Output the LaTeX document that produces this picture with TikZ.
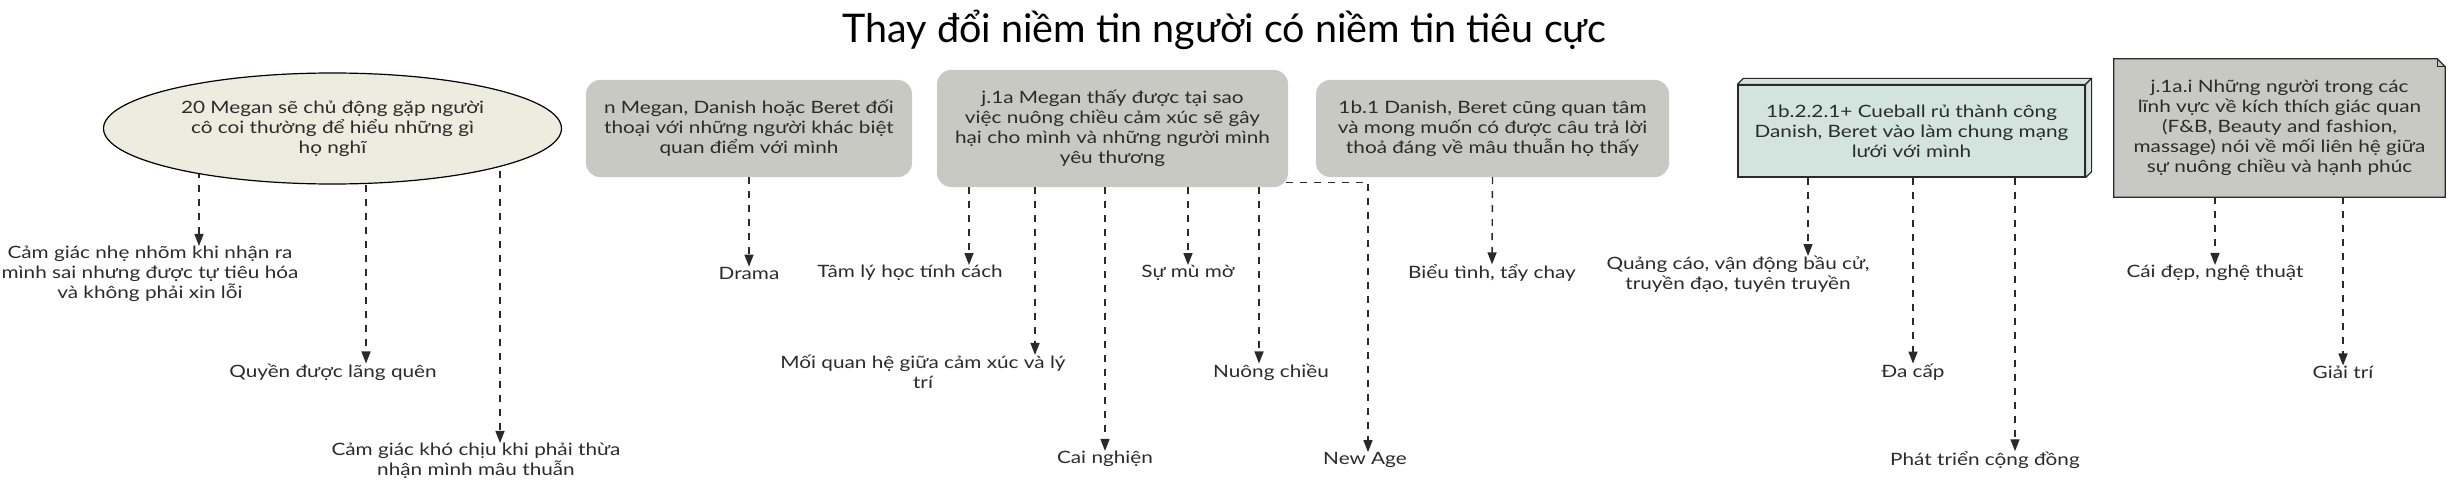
\documentclass[tikz,border=0pt]{standalone}
\usepackage{fontspec}
\setmainfont{Lato}[FakeStretch=1.22]
\newfontfamily\titlefont{Lato}
\usetikzlibrary{arrows.meta,backgrounds,calc,shapes.geometric}
\definecolor{ellfill}{HTML}{EEEBDF}
\definecolor{boxgray}{HTML}{C8C9C3}
\definecolor{boxteal}{HTML}{D3E4DE}
\definecolor{ink}{HTML}{2B2B2B}
\definecolor{wire}{HTML}{2A2A2A}
\tikzset{
  txt/.style={font=\fontsize{17}{20}\selectfont, text=ink, align=center, inner sep=0pt},
  lbl/.style={txt},
  conn/.style={draw=wire, line width=1.4pt, dash pattern=on 7pt off 7pt,
    -{Triangle[length=12pt,width=9pt]}},
  graybox/.style={txt, fill=boxgray, rounded corners=14pt},
}
\begin{document}
\begin{tikzpicture}[x=1pt,y=-1pt]
\useasboundingbox (0,0) rectangle (2450,487);
% title
\node[font=\titlefont\fontsize{39.5}{44}\selectfont, text=black, inner sep=0pt, anchor=base] (title) at (1224.5,43) {Thay đổi niềm tin người có niềm tin tiêu cực};

% main nodes
\node[txt, ellipse, fill=ellfill, draw=black, line width=1.2pt, minimum width=458, minimum height=111] (e) at (332.5,128.5)
  {20 Megan sẽ chủ động gặp người\\cô coi thường để hiểu những gì\\họ nghĩ};
\node[graybox, minimum width=326, minimum height=97] (n) at (749,128.5)
  {n Megan, Danish hoặc Beret đối\\thoại với những người khác biệt\\quan điểm với mình};
\node[graybox, minimum width=351, minimum height=117] (j) at (1112.5,128.5)
  {j.1a Megan thấy được tại sao\\việc nuông chiều cảm xúc sẽ gây\\hại cho mình và những người mình\\yêu thương};
\node[graybox, minimum width=353, minimum height=97] (b) at (1492.5,128.5)
  {1b.1 Danish, Beret cũng quan tâm\\và mong muốn có được câu trả lời\\thoả đáng về mâu thuẫn họ thấy};
\node[txt, fill=boxteal, draw=wire, line width=1.2pt, minimum width=347, minimum height=92] (c) at (1911.5,131)
  {1b.2.2.1+ Cueball rủ thành công\\Danish, Beret vào làm chung mạng\\lưới với mình};
\filldraw[fill=boxteal, draw=wire, line width=1.2pt, line join=round]
  (c.north west) -- ++(6,-6) -- ($(c.north east)+(6,-6)$) -- (c.north east) -- cycle;
\filldraw[fill=boxteal, draw=wire, line width=1.2pt, line join=round]
  (c.north east) -- ++(6,-6) -- ($(c.south east)+(6,-6)$) -- (c.south east) -- cycle;
\node[txt, minimum width=331, minimum height=138] (t) at (2279.5,128)
  {j.1a.i Những người trong các\\lĩnh vực về kích thích giác quan\\(F\&B, Beauty and fashion,\\massage) nói về mối liên hệ giữa\\sự nuông chiều và hạnh phúc};
\begin{scope}[on background layer]
\filldraw[fill=boxgray, draw=wire, line width=1.2pt]
  (t.north west) -- ($(t.north east)+(-8,0)$) -- ($(t.north east)+(0,8)$) -- (t.south east) -- (t.south west) -- cycle;
\draw[wire, line width=1pt] ($(t.north east)+(-8,0)$) -- ($(t.north east)+(-8,8)$) -- ($(t.north east)+(0,8)$);
\end{scope}

% labels
\node[lbl] (l1) at (150,274) {Cảm giác nhẹ nhõm khi nhận ra\\mình sai nhưng được tự tiêu hóa\\và không phải xin lỗi};
\node[lbl] (l2) at (333,372) {Quyền được lãng quên};
\node[lbl] (l3) at (476,461) {Cảm giác khó chịu khi phải thừa\\nhận mình mâu thuẫn};
\node[lbl] (dr) at (749,273) {Drama};
\node[lbl] (tl) at (910,273) {Tâm lý học tính cách};
\node[lbl] (mq) at (923,372) {Mối quan hệ giữa cảm xúc và lý\\trí};
\node[lbl] (cn) at (1105,459) {Cai nghiện};
\node[lbl] (sm) at (1188,273) {Sự mù mờ};
\node[lbl] (nc) at (1271,372) {Nuông chiều};
\node[lbl] (na) at (1365,460) {New Age};
\node[lbl] (bt) at (1492,273) {Biểu tình, tẩy chay};
\node[lbl] (qc) at (1738,274.5) {Quảng cáo, vận động bầu cử,\\truyền đạo, tuyên truyền};
\node[lbl] (dc) at (1913,372) {Đa cấp};
\node[lbl] (pt) at (1985,460) {Phát triển cộng đồng};
\node[lbl] (cd) at (2215,273) {Cái đẹp, nghệ thuật};
\node[lbl] (gt) at (2343,372) {Giải trí};

% x positions of connectors
\coordinate (xe1) at (199,0);
\coordinate (xe2) at (366,0);
\coordinate (xe3) at (500,0);
\coordinate (xj1) at (969,0);
\coordinate (xj2) at (1035,0);
\coordinate (xj3) at (1105,0);
\coordinate (xj4) at (1188,0);
\coordinate (xj5) at (1259,0);
\coordinate (xj6) at (1368,0);
\coordinate (xc1) at (1808,0);
\coordinate (xc2) at (1913,0);
\coordinate (xc3) at (2015,0);
\coordinate (xt1) at (2215,0);
\coordinate (xt2) at (2343,0);

% connectors
\begin{scope}[on background layer]
\draw[conn] (e.center -| xe1) -- (l1.north -| xe1);
\draw[conn] (e.center -| xe2) -- (l2.north -| xe2);
\draw[conn] (e.center -| xe3) -- (l3.north -| xe3);
\end{scope}
\draw[conn] (n.south) -- (dr.north);
\draw[conn] (j.south -| xj1) -- (tl.north -| xj1);
\draw[conn] (j.south -| xj2) -- (mq.north -| xj2);
\draw[conn] (j.south -| xj3) -- (cn.north -| xj3);
\draw[conn] (j.south -| xj4) -- (sm.north -| xj4);
\draw[conn] (j.south -| xj5) -- (nc.north -| xj5);
\coordinate (js) at ($(j.south east)+(-2,-5)$);
\draw[conn] (js) -- (js -| xj6) -- (na.north -| xj6);
\draw[conn] (b.south) -- (bt.north);
\draw[conn] (c.south -| xc1) -- (qc.north -| xc1);
\draw[conn] (c.south -| xc2) -- (dc.north -| xc2);
\draw[conn] (c.south -| xc3) -- (pt.north -| xc3);
\draw[conn] (t.south -| xt1) -- (cd.north -| xt1);
\draw[conn] (t.south -| xt2) -- (gt.north -| xt2);
\end{tikzpicture}
\end{document}
